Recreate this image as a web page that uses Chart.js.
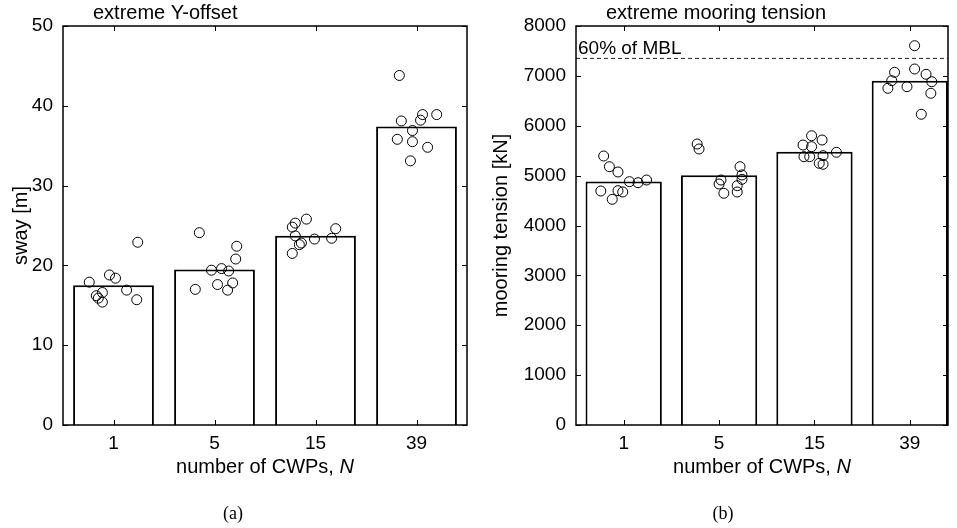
<!DOCTYPE html>
<html>
<head>
<meta charset="utf-8">
<script src="https://cdn.jsdelivr.net/npm/chart.js@4.4.1/dist/chart.umd.min.js"></script>
<style>
  body { margin: 0; background: #fff; }
  #wrap { position: relative; width: 957px; height: 528px; }
  canvas { position: absolute; top: 0; }
</style>
</head>
<body>
<div id="wrap">
  <canvas id="chart-a" width="480" height="528" style="left:0"></canvas>
  <canvas id="chart-b" width="477" height="528" style="left:480px"></canvas>
</div>
<script>
// number of CWPs (categories)
const categories = ['1', '5', '15', '39'];

// (a) extreme Y-offset, bar = mean, circles = single seeds
const swayMean = [17.5, 19.5, 23.7, 37.4];
const swaySeeds = [
    [17.9, 18.8, 18.4, 16.6, 16.2, 15.9, 15.4, 16.9, 15.7, 22.9],
    [19.4, 19.6, 19.3, 20.8, 17.0, 17.6, 17.8, 16.9, 24.1, 22.4],
    [24.8, 25.3, 25.8, 24.6, 23.7, 23.3, 23.4, 22.8, 22.6, 21.5],
    [43.8, 38.1, 38.9, 38.2, 38.9, 36.9, 35.8, 35.5, 34.8, 33.1]
];
const swayJitter = [
    [-0.24, -0.04, 0.02, -0.11, -0.17, -0.15, -0.11, 0.13, 0.23, 0.24],
    [-0.03, 0.07, 0.14, 0.21, -0.19, 0.03, 0.18, 0.13, -0.15, 0.22],
    [-0.23, -0.20, -0.09, 0.20, -0.20, -0.01, 0.16, -0.14, -0.16, -0.23],
    [-0.17, -0.15, 0.06, 0.04, 0.20, -0.04, -0.19, -0.04, 0.11, -0.06]
];

// (b) extreme mooring tension [kN]
const tensionMean = [4880, 5010, 5480, 6900];
const tensionSeeds = [
    [5393, 5179, 5073, 4879, 4858, 4912, 4692, 4698, 4672, 4525],
    [5634, 5534, 5179, 5013, 4926, 4912, 4832, 4798, 4646, 4672],
    [5800, 5714, 5614, 5580, 5468, 5380, 5380, 5400, 5247, 5227],
    [7605, 7138, 7072, 7032, 6903, 6883, 6751, 6783, 6651, 6230]
];
const tensionJitter = [
    [-0.21, -0.15, -0.06, 0.06, 0.15, 0.24, -0.24, -0.06, -0.01, -0.12],
    [-0.23, -0.21, 0.22, 0.24, 0.24, 0.02, 0.00, 0.19, 0.05, 0.19],
    [-0.03, 0.08, -0.12, -0.03, 0.23, -0.11, -0.05, 0.09, 0.05, 0.09],
    [0.05, 0.05, -0.16, 0.17, -0.19, 0.23, -0.23, -0.03, 0.22, 0.12]
];
const mblLimit = 7350; // 60% of MBL

const FONT = '"Liberation Sans", Arial, sans-serif';

// frame, inward ticks, titles and caption
const framePlugin = {
    id: 'frame',
    afterDraw(chart, args, opts) {
        const ctx = chart.ctx;
        const a = chart.chartArea;
        const xs = chart.scales.x;
        const ys = chart.scales.y;
        ctx.save();

        // dashed limit line
        if (opts.limit) {
            const py = ys.getPixelForValue(opts.limit);
            ctx.strokeStyle = '#222';
            ctx.lineWidth = 1;
            ctx.setLineDash([4, 3]);
            ctx.beginPath();
            ctx.moveTo(a.left, py);
            ctx.lineTo(a.right, py);
            ctx.stroke();
            ctx.setLineDash([]);
            ctx.fillStyle = 'black';
            ctx.font = '19px ' + FONT;
            ctx.textAlign = 'left';
            ctx.textBaseline = 'alphabetic';
            ctx.fillText(opts.limitLabel, a.left + 2, py - 4);
        }

        ctx.strokeStyle = 'black';
        ctx.lineWidth = 1.5;
        ctx.strokeRect(a.left, a.top, a.right - a.left, a.bottom - a.top);

        // ticks pointing inward on all sides
        ctx.lineWidth = 1;
        ctx.beginPath();
        xs.ticks.forEach(function (t) {
            const px = Math.round(xs.getPixelForValue(t.value)) + 0.5;
            ctx.moveTo(px, a.bottom); ctx.lineTo(px, a.bottom - 5);
            ctx.moveTo(px, a.top); ctx.lineTo(px, a.top + 5);
        });
        ys.ticks.forEach(function (t) {
            const py = Math.round(ys.getPixelForValue(t.value)) + 0.5;
            ctx.moveTo(a.left, py); ctx.lineTo(a.left + 5, py);
            ctx.moveTo(a.right, py); ctx.lineTo(a.right - 5, py);
        });
        ctx.stroke();

        // title inside top-left
        ctx.fillStyle = 'black';
        ctx.font = '20px ' + FONT;
        ctx.textAlign = 'left';
        ctx.textBaseline = 'alphabetic';
        ctx.fillText(opts.title, a.left + 30, a.top - 7);

        // x axis title with italic N
        const part1 = 'number of CWPs, ';
        const part2 = 'N';
        ctx.font = '20px ' + FONT;
        const w1 = ctx.measureText(part1).width;
        ctx.font = 'italic 20px ' + FONT;
        const w2 = ctx.measureText(part2).width;
        const x0 = (a.left + a.right) / 2 - (w1 + w2) / 2;
        ctx.textBaseline = 'middle';
        ctx.font = '20px ' + FONT;
        ctx.fillText(part1, x0, 467);
        ctx.font = 'italic 20px ' + FONT;
        ctx.fillText(part2, x0 + w1, 467);

        // sub-figure caption
        ctx.font = '18px "Liberation Serif", "DejaVu Serif", serif';
        ctx.textAlign = 'center';
        ctx.fillText(opts.caption, opts.captionX, 514);

        ctx.restore();
    }
};

function makeChart(id, mean, seeds, jitter, o) {
    const bars = mean.map(function (v, i) { return { x: i, y: v }; });
    const pts = [];
    seeds.forEach(function (group, i) {
        group.forEach(function (v, k) {
            pts.push({ x: i + jitter[i][k], y: v });
        });
    });

    const data = {
        datasets: [
            {
                type: 'scatter',
                data: pts,
                pointRadius: 5,
                pointBorderWidth: 1,
                pointBorderColor: 'black',
                pointBackgroundColor: 'rgba(0,0,0,0)',
                order: 0
            },
            {
                type: 'bar',
                data: bars,
                backgroundColor: 'white',
                borderColor: 'black',
                borderWidth: 2,
                barPercentage: 0.8,
                categoryPercentage: 1.0,
                order: 1
            }
        ]
    };

    const options = {
        responsive: false,
        animation: false,
        layout: { padding: { top: 26, right: o.padRight, left: 0, bottom: 0 } },
        plugins: {
            legend: { display: false },
            tooltip: { enabled: false },
            frame: o.frame
        },
        scales: {
            x: {
                type: 'linear',
                min: -0.5,
                max: o.xMax,
                offset: false,
                grid: { display: false, drawTicks: false },
                border: { display: false },
                afterBuildTicks: function (scale) {
                    scale.ticks = categories.map(function (c, i) { return { value: i }; });
                },
                afterFit: function (scale) { scale.height = 103; },
                ticks: {
                    color: 'black',
                    padding: 7,
                    maxRotation: 0,
                    font: { family: FONT, size: 19 },
                    callback: function (value) { return categories[value]; }
                }
            },
            y: {
                min: 0,
                max: o.yMax,
                grid: { display: false, drawTicks: false },
                border: { display: false },
                afterFit: function (scale) { scale.width = o.axisWidth; },
                ticks: {
                    stepSize: o.step,
                    color: 'black',
                    padding: 10,
                    font: { family: FONT, size: 19 },
                    callback: function (value) { return String(value); }
                },
                title: {
                    display: true,
                    text: o.yTitle,
                    color: 'black',
                    padding: { top: 9, bottom: 0 },
                    font: { family: FONT, size: 20 }
                }
            }
        }
    };

    const ctx = document.getElementById(id).getContext('2d');
    return new Chart(ctx, {
        type: 'bar',
        data: data,
        options: options,
        plugins: [framePlugin]
    });
}

makeChart('chart-a', swayMean, swaySeeds, swayJitter, {
    padRight: 13, xMax: 3.5, yMax: 50, step: 10, axisWidth: 63,
    yTitle: 'sway [m]',
    frame: { title: 'extreme Y-offset', caption: '(a)', captionX: 233 }
});

makeChart('chart-b', tensionMean, tensionSeeds, tensionJitter, {
    padRight: 9, xMax: 3.4, yMax: 8000, step: 1000, axisWidth: 96,
    yTitle: 'mooring tension [kN]',
    frame: { title: 'extreme mooring tension', caption: '(b)', captionX: 243,
             limit: mblLimit, limitLabel: '60% of MBL' }
});
</script>
</body>
</html>
